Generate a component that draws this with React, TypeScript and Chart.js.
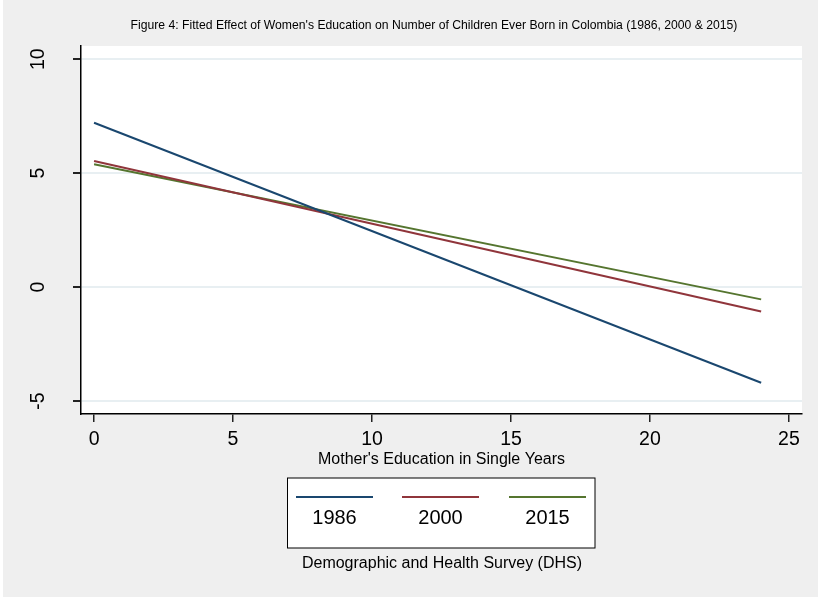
import React, { useEffect, useRef } from 'react';
import { Chart, registerables } from 'chart.js';

Chart.register(...registerables);

const educationYears = [0, 24];
const series1986 = [7.21, -4.2];
const series2000 = [5.53, -1.07];
const series2015 = [5.39, -0.54];
const seriesLabels = ['1986', '2000', '2015'];
const seriesColors = ['#1a476f', '#90353b', '#55752f'];
const xTicks = [0, 5, 10, 15, 20, 25];
const yTicks = [-5, 0, 5, 10];
const titleText =
  "Figure 4: Fitted Effect of Women's Education on Number of Children Ever Born in Colombia (1986, 2000 & 2015)";
const xTitle = "Mother's Education in Single Years";
const noteText = 'Demographic and Health Survey (DHS)';

const FONT = '"Liberation Sans", Arial, Helvetica, sans-serif';

const decorPlugin = {
  id: 'stataDecor',
  beforeDraw(chart: any) {
    const { ctx, width, height, chartArea } = chart;
    ctx.save();
    ctx.fillStyle = '#ffffff';
    ctx.fillRect(0, 0, width, height);
    ctx.fillStyle = '#efefef';
    ctx.fillRect(3, 0, width - 3, height);
    ctx.fillStyle = '#ffffff';
    ctx.fillRect(chartArea.left, chartArea.top, chartArea.right - chartArea.left, chartArea.bottom - chartArea.top);
    ctx.restore();
  },
  afterDraw(chart: any) {
    const { ctx, chartArea } = chart;
    const yScale = chart.scales.y;
    const cx = (chartArea.left + chartArea.right) / 2;
    ctx.save();
    // title
    ctx.fillStyle = '#000';
    ctx.textAlign = 'center';
    ctx.textBaseline = 'middle';
    ctx.font = `12.2px ${FONT}`;
    ctx.fillText(titleText, 434, 26);
    // y tick labels (rotated)
    ctx.font = `19.5px ${FONT}`;
    yTicks.forEach((v) => {
      const py = yScale.getPixelForValue(v);
      ctx.save();
      ctx.translate(39, py);
      ctx.rotate(-Math.PI / 2);
      ctx.textAlign = 'center';
      ctx.textBaseline = 'middle';
      ctx.fillText(String(v), 0, 0);
      ctx.restore();
    });
    // x title
    ctx.font = `16px ${FONT}`;
    ctx.textAlign = 'center';
    ctx.textBaseline = 'middle';
    ctx.fillText(xTitle, cx, 460);
    // legend box
    const bx = 287.5, by = 478, bw = 307.5, bh = 70;
    ctx.fillStyle = '#ffffff';
    ctx.fillRect(bx, by, bw, bh);
    ctx.strokeStyle = '#000';
    ctx.lineWidth = 1;
    ctx.strokeRect(bx, by, bw, bh);
    const keyStarts = [296, 402, 509];
    const keyLen = 77;
    seriesLabels.forEach((lab, i) => {
      ctx.strokeStyle = seriesColors[i];
      ctx.lineWidth = 2;
      ctx.beginPath();
      ctx.moveTo(keyStarts[i], 497);
      ctx.lineTo(keyStarts[i] + keyLen, 497);
      ctx.stroke();
      ctx.fillStyle = '#000';
      ctx.font = `20px ${FONT}`;
      ctx.textAlign = 'center';
      ctx.textBaseline = 'middle';
      ctx.fillText(lab, keyStarts[i] + keyLen / 2, 518);
    });
    // note
    ctx.font = `16px ${FONT}`;
    ctx.fillText(noteText, 442, 564);
    ctx.restore();
  },
};

export default function App() {
  const ref = useRef<HTMLCanvasElement | null>(null);
  useEffect(() => {
    if (!ref.current) return;
    const mk = (vals: number[]) => educationYears.map((x, i) => ({ x, y: vals[i] }));
    const allSeries = [series1986, series2000, series2015];
    const chart = new Chart(ref.current, {
      type: 'scatter',
      data: {
        datasets: allSeries.map((vals, i) => ({
          label: seriesLabels[i],
          data: mk(vals),
          showLine: true,
          borderColor: seriesColors[i],
          backgroundColor: seriesColors[i],
          borderWidth: 2,
          pointRadius: 0,
          tension: 0,
        })),
      },
      options: {
        animation: false,
        responsive: false,
        layout: { padding: { left: 0, top: 46, right: 16, bottom: 0 } },
        plugins: {
          legend: { display: false },
          title: { display: false },
          tooltip: { enabled: false },
        },
        scales: {
          x: {
            type: 'linear',
            min: -0.47,
            max: 25.47,
            afterBuildTicks: (s: any) => {
              s.ticks = xTicks.map((v) => ({ value: v }));
            },
            afterFit: (s: any) => {
              s.height = 597 - 414;
            },
            grid: { drawOnChartArea: false, drawTicks: true, tickLength: 8, tickColor: '#222', lineWidth: 1.5 },
            border: { display: true, color: '#000', width: 1.5 },
            ticks: {
              color: '#000',
              padding: 6,
              maxRotation: 0,
              font: { family: FONT, size: 19.5 },
            },
          },
          y: {
            type: 'linear',
            min: -5.57,
            max: 10.58,
            afterBuildTicks: (s: any) => {
              s.ticks = yTicks.map((v) => ({ value: v }));
            },
            afterFit: (s: any) => {
              s.width = 81;
            },
            grid: { color: '#e8eff2', lineWidth: 2, drawTicks: true, tickLength: 8, tickColor: '#222' },
            border: { display: true, color: '#000', width: 1.5 },
            ticks: { display: false },
          },
        },
      },
      plugins: [decorPlugin],
    });
    return () => chart.destroy();
  }, []);
  return (
    <div style={{ position: 'fixed', left: 0, top: 0, width: 818, height: 597 }}>
      <canvas ref={ref} width={818} height={597} style={{ width: 818, height: 597, display: 'block' }} />
    </div>
  );
}
